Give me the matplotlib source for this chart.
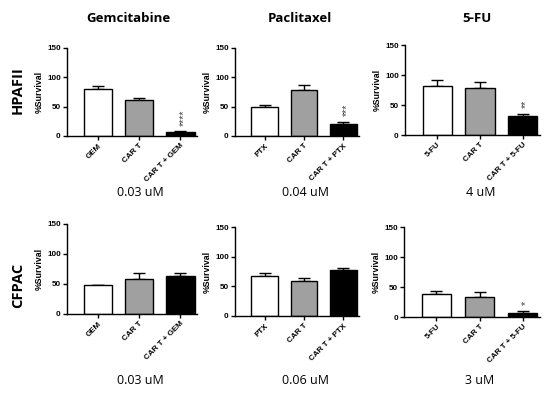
import matplotlib
matplotlib.use("Agg")
import matplotlib.pyplot as plt

W, H = 550, 397

drugs = ["Gemcitabine", "Paclitaxel", "5-FU"]
cell_lines = ["HPAFII", "CFPAC"]
drug_abbr = ["GEM", "PTX", "5-FU"]

# values [row][col] -> [drug, CAR T, CAR T + drug]
means_hpafii = [[80, 62, 7], [50, 78, 21], [81, 79, 31]]
errs_hpafii = [[6, 3, 1], [2, 9, 3], [11, 9, 4]]
means_cfpac = [[48, 59, 63], [67, 59, 78], [38, 34, 7]]
errs_cfpac = [[1, 10, 5], [5, 5, 3], [5, 7, 3]]
sig_hpafii = ["****", "***", "**"]
sig_cfpac = ["", "", "*"]
conc_hpafii = ["0.03 uM", "0.04 uM", "4 uM"]
conc_cfpac = ["0.03 uM", "0.06 uM", "3 uM"]

bar_colors = ["white", "#a0a0a0", "black"]

# axes placement in pixels: (left, right, y0 pixel, y150 pixel)
boxes = [
    [(67, 197, 136, 48), (235, 359, 136, 48), (405, 540, 135, 45)],
    [(67, 197, 314, 224), (235, 359, 316, 227), (404, 540, 317, 227)],
]
xl = (-0.75, 2.4)

fig = plt.figure(figsize=(W / 100, H / 100), dpi=100)

tickfont = dict(family="Liberation Sans", weight="bold", size=5.8)

for r in range(2):
    means = means_hpafii if r == 0 else means_cfpac
    errs = errs_hpafii if r == 0 else errs_cfpac
    sigs = sig_hpafii if r == 0 else sig_cfpac
    concs = conc_hpafii if r == 0 else conc_cfpac
    for c in range(3):
        lft, rgt, y0, y150 = boxes[r][c]
        ax = fig.add_axes([lft / W, 1 - y0 / H, (rgt - lft) / W, (y0 - y150) / H])
        labels = [drug_abbr[c], "CAR T", "CAR T + " + drug_abbr[c]]
        x = [0, 1, 2]
        ax.bar(x, means[c], width=0.68, color=bar_colors, edgecolor="black",
               linewidth=1.0, zorder=2)
        ax.errorbar(x, means[c], yerr=[[0, 0, 0], errs[c]], fmt="none",
                    ecolor="black", elinewidth=1.0, capsize=4.5, capthick=1.0,
                    zorder=1)
        if sigs[c]:
            ax.annotate(sigs[c], xy=(2, means[c][2] + errs[c][2]),
                        xytext=(2.5, 4), textcoords="offset points",
                        rotation=90, ha="center", va="bottom", fontsize=7.5,
                        color="#444444", family="Liberation Sans")
        ax.set_xlim(*xl)
        ax.set_ylim(0, 150)
        ax.set_yticks([0, 50, 100, 150])
        ax.set_xticks(x)
        ax.set_xticklabels(labels, rotation=45, ha="right", rotation_mode="anchor",
                           **tickfont)
        for lab in ax.get_yticklabels():
            lab.set_fontfamily("Liberation Sans")
            lab.set_fontweight("bold")
            lab.set_fontsize(5.8)
        ax.tick_params(axis="both", length=3, width=1.0, pad=1.5)
        ax.spines["top"].set_visible(False)
        ax.spines["right"].set_visible(False)
        ax.spines["left"].set_linewidth(1.0)
        ax.spines["bottom"].set_linewidth(1.0)
        ax.set_ylabel("%Survival", fontsize=6.3, family="Liberation Sans",
                      weight="bold", labelpad=2)
        ax.patch.set_alpha(0)
        # concentration label
        cx = (lft + rgt) / 2 + 8
        cy = 193 if r == 0 else 380
        fig.text(cx / W, 1 - cy / H, concs[c], ha="center", va="center",
                 fontsize=9, family="Open Sans")

title_x = [128, 300, 477]
for c in range(3):
    fig.text(title_x[c] / W, 1 - 18 / H, drugs[c], ha="center", va="center",
             fontsize=9.5, family="Open Sans", weight="bold")

row_y = [90, 285]
for r in range(2):
    fig.text(18 / W, 1 - row_y[r] / H, cell_lines[r], ha="center", va="center",
             rotation=90, fontsize=10.5, family="Open Sans", weight="bold")

fig.savefig("out.png", dpi=100, facecolor="white")
